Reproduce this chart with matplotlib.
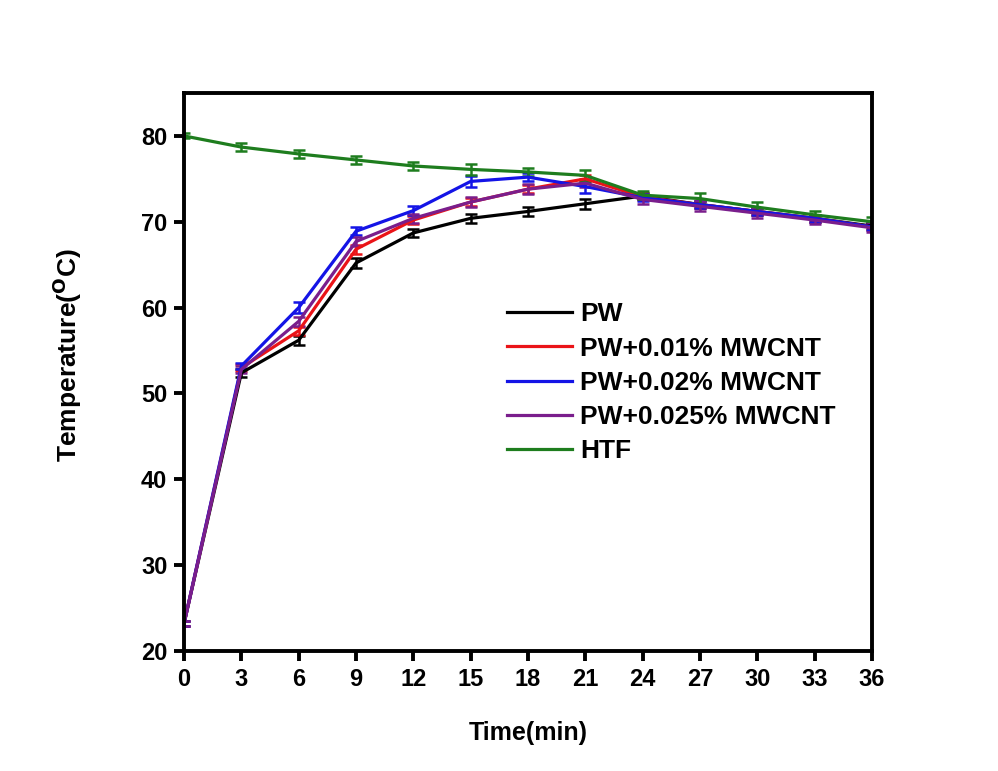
#!/usr/bin/python
# coding=utf-8

"""
Charging curves of paraffin wax (PW) with MWCNT additives vs. the heat
transfer fluid (HTF) temperature.
"""

import matplotlib
matplotlib.use("Agg")
import matplotlib.pyplot as plt
import numpy as np

# Time of each reading, minutes.
time = [0, 3, 6, 9, 12, 15, 18, 21, 24, 27, 30, 33, 36]

# Temperatures, deg C.
pw      = [23.2, 52.4, 56.2, 65.2, 68.7, 70.4, 71.2, 72.1, 73.0, 72.0, 71.2, 70.4, 69.5]
pw_001  = [23.2, 53.0, 57.3, 66.8, 70.2, 72.3, 73.8, 75.0, 72.9, 72.0, 71.2, 70.4, 69.4]
pw_002  = [23.2, 53.2, 60.0, 68.9, 71.3, 74.7, 75.2, 74.1, 72.8, 72.0, 71.2, 70.4, 69.4]
pw_0025 = [23.2, 52.8, 58.4, 67.7, 70.4, 72.3, 73.8, 74.5, 72.6, 71.8, 71.0, 70.2, 69.3]
htf     = [80.0, 78.7, 77.9, 77.2, 76.5, 76.1, 75.8, 75.4, 73.1, 72.7, 71.7, 70.8, 70.0]

# Error bar half widths, deg C.
err_pw      = [0.3, 0.5, 0.5, 0.6, 0.5, 0.5, 0.5, 0.6, 0.4, 0.4, 0.4, 0.4, 0.4]
err_pw_001  = [0.3, 0.4, 0.5, 0.5, 0.5, 0.5, 0.5, 0.5, 0.4, 0.4, 0.4, 0.4, 0.4]
err_pw_002  = [0.3, 0.4, 0.6, 0.5, 0.5, 0.6, 0.5, 0.7, 0.4, 0.4, 0.4, 0.4, 0.4]
err_pw_0025 = [0.3, 0.4, 0.5, 0.5, 0.5, 0.6, 0.6, 0.5, 0.5, 0.6, 0.6, 0.5, 0.5]
err_htf     = [0.3, 0.5, 0.5, 0.5, 0.5, 0.6, 0.5, 0.6, 0.5, 0.6, 0.6, 0.5, 0.5]

labels = ["PW", "PW+0.01% MWCNT", "PW+0.02% MWCNT", "PW+0.025% MWCNT", "HTF"]
colors = ["#000000", "#ea1418", "#1414e6", "#7a1e8c", "#1e7d1e"]

plt.rcParams["font.family"] = ["Liberation Sans", "DejaVu Sans"]
plt.rcParams["font.weight"] = "bold"
plt.rcParams["mathtext.default"] = "regular"

fig = plt.figure(figsize = (9.98, 7.71), dpi = 100)
ax = fig.add_axes([0.1844, 0.1556, 0.6893, 0.7238])

series = [pw, pw_001, pw_002, pw_0025, htf]
errors = [err_pw, err_pw_001, err_pw_002, err_pw_0025, err_htf]

for values, err, label, color in zip(series, errors, labels, colors):
    ax.errorbar(time, values, yerr = err, color = color, label = label,
                linewidth = 2.3, elinewidth = 1.8, capsize = 4.5,
                capthick = 1.8)

ax.set_xlim(0, 36)
ax.set_ylim(20, 85)
ax.set_xticks(np.arange(0, 37, 3))
ax.set_yticks(np.arange(20, 81, 10))

for spine in ax.spines.values():
    spine.set_linewidth(2.8)

ax.tick_params(direction = "out", length = 7, width = 2.8, labelsize = 17,
               pad = 5)
for tick in ax.get_xticklabels() + ax.get_yticklabels():
    tick.set_fontweight("bold")

ax.set_xlabel("Time(min)", fontsize = 18, fontweight = "bold", labelpad = 22)
ax.set_ylabel(r"Temperature($^{\mathbf{O}}$C)", fontsize = 19,
              fontweight = "bold")
ax.yaxis.set_label_coords(-0.145, 0.53)

handles, names = ax.get_legend_handles_labels()
handles = [h[0] for h in handles]
legend = ax.legend(handles, names, loc = "upper left",
                   bbox_to_anchor = (0.4695, 0.625), frameon = False,
                   borderpad = 0, borderaxespad = 0, handlelength = 2.46,
                   handletextpad = 0.3, labelspacing = 0.39,
                   prop = {"size": 19, "weight": "bold"})

fig.savefig("out.png", dpi = 100)
